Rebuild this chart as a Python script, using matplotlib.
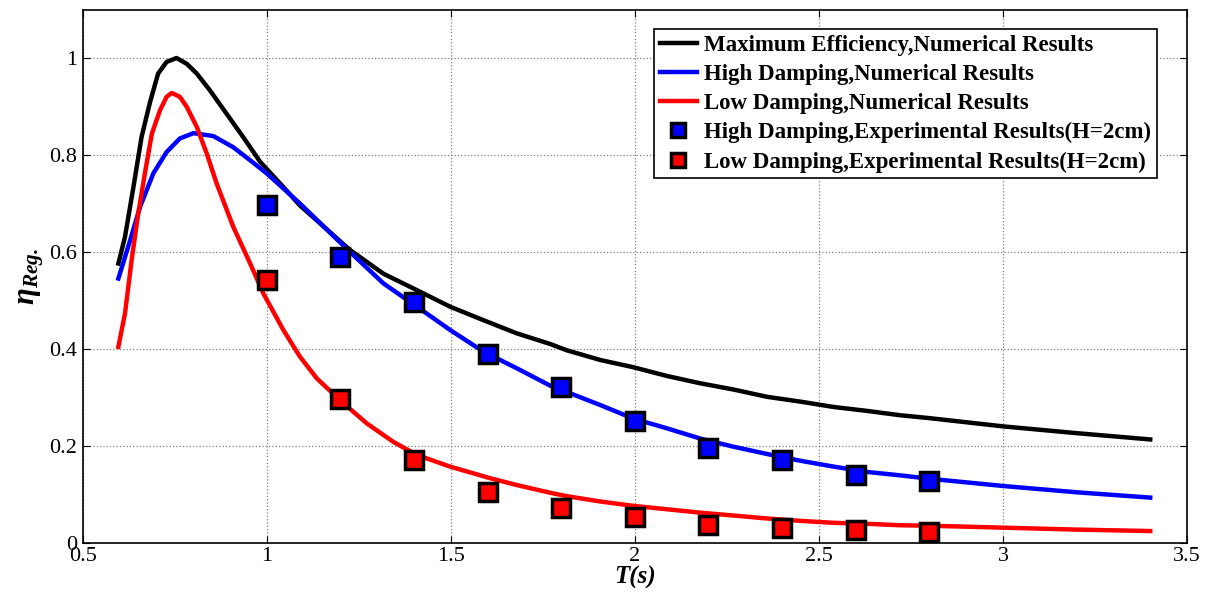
import matplotlib.pyplot as plt
import numpy as np

plt.rcParams['font.family'] = ['Liberation Serif', 'DejaVu Serif']
plt.rcParams['mathtext.fontset'] = 'custom'
plt.rcParams['mathtext.rm'] = 'Liberation Serif'
plt.rcParams['mathtext.it'] = 'Liberation Serif:italic'
plt.rcParams['mathtext.bf'] = 'Liberation Serif:italic:bold'

# Numerical curves
t_max = [0.597, 0.615, 0.638, 0.66, 0.683, 0.705, 0.728, 0.755, 0.783, 0.81, 0.846,
         0.891, 0.936, 0.982, 1.045, 1.09, 1.226, 1.317, 1.408, 1.498, 1.589, 1.679,
         1.77, 1.815, 1.906, 1.996, 2.087, 2.177, 2.268, 2.359, 2.45, 2.54, 2.63,
         2.72, 2.8, 3.0, 3.2, 3.4]
eta_max = [0.576, 0.631, 0.734, 0.837, 0.909, 0.968, 0.992, 1.0, 0.988, 0.968, 0.933,
           0.885, 0.837, 0.786, 0.734, 0.696, 0.604, 0.555, 0.521, 0.487, 0.459, 0.432,
           0.41, 0.397, 0.377, 0.362, 0.344, 0.329, 0.316, 0.301, 0.291, 0.28, 0.272,
           0.263, 0.257, 0.24, 0.226, 0.213]

t_high = [0.597, 0.629, 0.656, 0.692, 0.728, 0.764, 0.801, 0.855, 0.909, 0.955, 1.0,
          1.09, 1.226, 1.317, 1.408, 1.498, 1.589, 1.679, 1.77, 1.815, 1.906, 1.996,
          2.087, 2.177, 2.268, 2.359, 2.45, 2.54, 2.63, 2.72, 2.8, 3.0, 3.2, 3.4]
eta_high = [0.545, 0.624, 0.693, 0.762, 0.806, 0.834, 0.845, 0.839, 0.816, 0.789, 0.762,
            0.7, 0.6, 0.535, 0.487, 0.439, 0.394, 0.36, 0.324, 0.311, 0.284, 0.256,
            0.236, 0.215, 0.198, 0.183, 0.169, 0.157, 0.146, 0.139, 0.132, 0.117, 0.104, 0.093]

t_low = [0.597, 0.615, 0.633, 0.651, 0.669, 0.688, 0.71, 0.728, 0.742, 0.764, 0.783,
         0.81, 0.837, 0.864, 0.909, 0.955, 0.991, 1.045, 1.09, 1.136, 1.199, 1.272,
         1.344, 1.408, 1.498, 1.607, 1.679, 1.77, 1.815, 1.906, 1.996, 2.087, 2.177,
         2.268, 2.359, 2.45, 2.54, 2.63, 2.72, 2.8, 3.0, 3.2, 3.4]
eta_low = [0.404, 0.473, 0.583, 0.679, 0.762, 0.844, 0.892, 0.92, 0.928, 0.92, 0.899,
           0.858, 0.803, 0.741, 0.652, 0.576, 0.514, 0.439, 0.384, 0.339, 0.294, 0.246,
           0.208, 0.181, 0.157, 0.133, 0.119, 0.103, 0.096, 0.085, 0.076, 0.069, 0.062,
           0.056, 0.05, 0.045, 0.041, 0.039, 0.036, 0.035, 0.031, 0.027, 0.024]

# Experimental points
t_exp = [1.0, 1.2, 1.4, 1.6, 1.8, 2.0, 2.2, 2.4, 2.6, 2.8]
eta_exp_high = [0.696, 0.589, 0.496, 0.389, 0.322, 0.252, 0.196, 0.171, 0.140, 0.127]
eta_exp_low = [0.543, 0.296, 0.170, 0.104, 0.071, 0.052, 0.036, 0.030, 0.026, 0.022]

fig = plt.figure(figsize=(12.12, 5.98), dpi=100)
ax = fig.add_axes([0.0682, 0.0925, 0.9112, 0.8915])

ax.plot(t_max, eta_max, color='black', lw=3.2, label='Maximum Efficiency,Numerical Results')
ax.plot(t_high, eta_high, color='blue', lw=3.2, label='High Damping,Numerical Results')
ax.plot(t_low, eta_low, color='red', lw=3.2, label='Low Damping,Numerical Results')
ax.plot(t_exp, eta_exp_high, ls='none', marker='s', ms=13, mfc='blue', mec='black', mew=2.5,
        label='High Damping,Experimental Results(H=2cm)')
ax.plot(t_exp, eta_exp_low, ls='none', marker='s', ms=13, mfc='red', mec='black', mew=2.5,
        label='Low Damping,Experimental Results(H=2cm)')

ax.set_xlim(0.5, 3.5)
ax.set_ylim(0, 1.1)
ax.set_xticks([0.5, 1, 1.5, 2, 2.5, 3, 3.5])
ax.set_xticklabels(['0.5', '1', '1.5', '2', '2.5', '3', '3.5'])
ax.set_yticks([0, 0.2, 0.4, 0.6, 0.8, 1])
ax.set_yticklabels(['0', '0.2', '0.4', '0.6', '0.8', '1'])
ax.tick_params(direction='in', top=True, right=True, length=5, labelsize=16)
ax.tick_params(axis='x', pad=3)
ax.tick_params(axis='y', pad=4)
ax.grid(True, ls=':', color='gray', lw=0.9)
for s in ax.spines.values():
    s.set_linewidth(1.2)

ax.set_xlabel('T(s)', fontsize=18, fontweight='bold', fontstyle='italic', labelpad=0)
ax.set_ylabel(r'$\mathbf{\eta}_{\mathbf{Reg.}}$', fontsize=22, labelpad=2)

leg = ax.legend(loc='upper right', bbox_to_anchor=(0.9728, 0.963), borderaxespad=0,
                prop={'weight': 'bold', 'size': 16.5}, markerscale=0.75,
                frameon=True, fancybox=False, edgecolor='black', framealpha=1,
                borderpad=0.25, handlelength=1.65, labelspacing=0.35, handletextpad=0.3)
leg.get_frame().set_linewidth(1.2)

fig.savefig('out.png', dpi=100)
